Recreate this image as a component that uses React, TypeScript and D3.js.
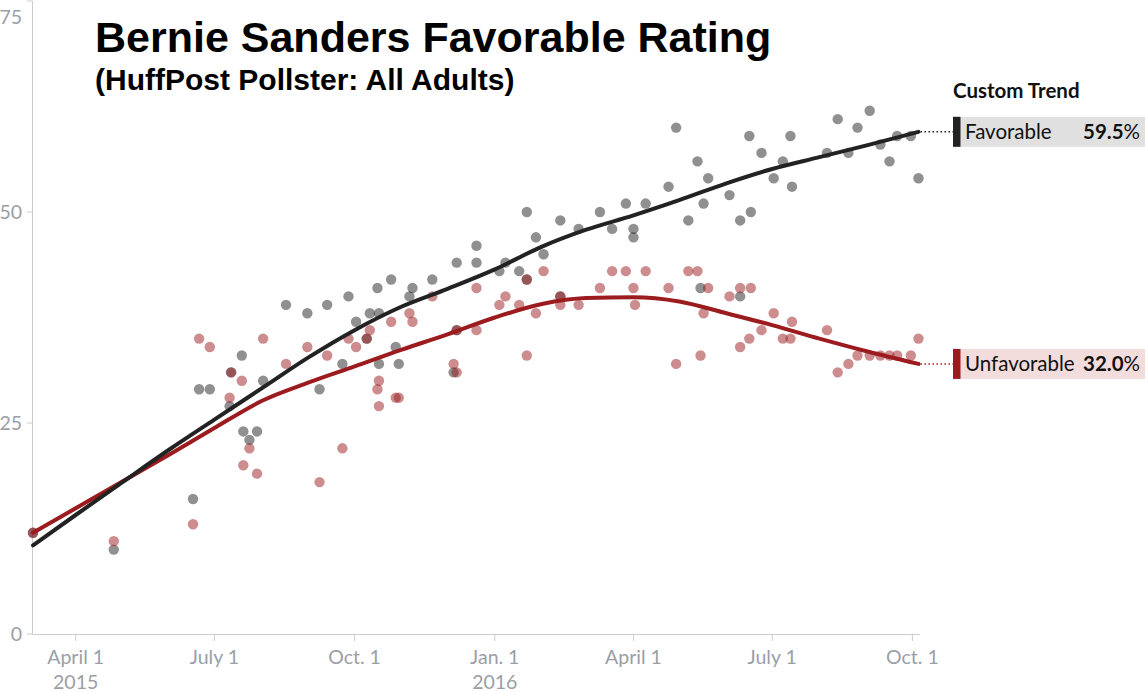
import React from "react";
import * as d3 from "d3";

const favorablePolls: [string, number][] = [
  ["2015-03-04", 12], ["2015-04-26", 10], ["2015-06-17", 16], ["2015-06-21", 29], ["2015-06-28", 29],
  ["2015-07-11", 27], ["2015-07-12", 31], ["2015-07-19", 33], ["2015-07-20", 24], ["2015-07-24", 23],
  ["2015-07-29", 24], ["2015-08-02", 30], ["2015-08-17", 39], ["2015-08-31", 38], ["2015-09-08", 29],
  ["2015-09-13", 39], ["2015-09-23", 32], ["2015-09-27", 40], ["2015-10-02", 37], ["2015-10-09", 35],
  ["2015-10-11", 38], ["2015-10-16", 41], ["2015-10-17", 38], ["2015-10-17", 32], ["2015-10-25", 42],
  ["2015-10-28", 34], ["2015-10-30", 32], ["2015-11-06", 40], ["2015-11-08", 41], ["2015-11-21", 42],
  ["2015-12-05", 31], ["2015-12-07", 44], ["2015-12-07", 36], ["2015-12-20", 46], ["2015-12-20", 44],
  ["2016-01-04", 43], ["2016-01-08", 44], ["2016-01-17", 43], ["2016-01-22", 50], ["2016-01-22", 42],
  ["2016-01-28", 47], ["2016-02-02", 45], ["2016-02-13", 49], ["2016-02-13", 40], ["2016-02-25", 48],
  ["2016-03-10", 50], ["2016-03-18", 48], ["2016-03-27", 51], ["2016-04-01", 48], ["2016-04-01", 47],
  ["2016-04-09", 51], ["2016-04-24", 53], ["2016-04-29", 60], ["2016-05-07", 49], ["2016-05-13", 56],
  ["2016-05-15", 41], ["2016-05-17", 51], ["2016-05-20", 54], ["2016-06-03", 52], ["2016-06-10", 49],
  ["2016-06-10", 40], ["2016-06-16", 59], ["2016-06-17", 50], ["2016-06-24", 57], ["2016-07-02", 54],
  ["2016-07-08", 56], ["2016-07-13", 59], ["2016-07-14", 53], ["2016-08-06", 57], ["2016-08-13", 61],
  ["2016-08-20", 57], ["2016-08-26", 60], ["2016-09-03", 62], ["2016-09-10", 58], ["2016-09-16", 56],
  ["2016-09-21", 59], ["2016-09-30", 59], ["2016-10-05", 54],
];

const unfavorablePolls: [string, number][] = [
  ["2015-03-04", 12], ["2015-04-26", 11], ["2015-06-17", 13], ["2015-06-21", 35], ["2015-06-28", 34],
  ["2015-07-11", 28], ["2015-07-12", 31], ["2015-07-19", 30], ["2015-07-20", 20], ["2015-07-24", 22],
  ["2015-07-29", 19], ["2015-08-02", 35], ["2015-08-17", 32], ["2015-08-31", 34], ["2015-09-08", 18],
  ["2015-09-13", 33], ["2015-09-23", 22], ["2015-09-27", 35], ["2015-10-02", 34], ["2015-10-09", 35],
  ["2015-10-11", 36], ["2015-10-16", 29], ["2015-10-17", 27], ["2015-10-17", 30], ["2015-10-25", 37],
  ["2015-10-28", 28], ["2015-10-30", 28], ["2015-11-06", 38], ["2015-11-08", 37], ["2015-11-21", 40],
  ["2015-12-05", 32], ["2015-12-07", 31], ["2015-12-07", 36], ["2015-12-20", 41], ["2015-12-20", 36],
  ["2016-01-04", 39], ["2016-01-08", 40], ["2016-01-17", 39], ["2016-01-22", 42], ["2016-01-22", 33],
  ["2016-01-28", 38], ["2016-02-02", 43], ["2016-02-13", 40], ["2016-02-13", 39], ["2016-02-25", 39],
  ["2016-03-10", 41], ["2016-03-18", 43], ["2016-03-27", 43], ["2016-04-01", 41], ["2016-04-02", 39],
  ["2016-04-09", 43], ["2016-04-24", 41], ["2016-04-29", 32], ["2016-05-07", 43], ["2016-05-13", 43],
  ["2016-05-15", 33], ["2016-05-17", 38], ["2016-05-20", 41], ["2016-06-03", 40], ["2016-06-10", 41],
  ["2016-06-10", 34], ["2016-06-16", 35], ["2016-06-17", 41], ["2016-06-24", 36], ["2016-07-02", 38],
  ["2016-07-08", 35], ["2016-07-13", 35], ["2016-07-14", 37], ["2016-08-06", 36], ["2016-08-13", 31],
  ["2016-08-20", 32], ["2016-08-26", 33], ["2016-09-03", 33], ["2016-09-10", 33], ["2016-09-16", 33],
  ["2016-09-21", 33], ["2016-09-30", 33], ["2016-10-05", 35],
];

const favorableTrend: [string, number][] = [
  ["2015-03-04", 10.5], ["2015-04-01", 14.1], ["2015-05-01", 17.9], ["2015-06-01", 21.8],
  ["2015-07-01", 25.4], ["2015-08-01", 29.1], ["2015-09-01", 32.8], ["2015-10-01", 36.0],
  ["2015-11-01", 38.8], ["2015-12-01", 40.9], ["2016-01-01", 43.2], ["2016-02-01", 45.9],
  ["2016-03-01", 47.9], ["2016-04-01", 49.6], ["2016-05-01", 51.4], ["2016-06-01", 53.4],
  ["2016-07-01", 55.1], ["2016-08-01", 56.5], ["2016-09-01", 57.9], ["2016-10-05", 59.5],
];

const unfavorableTrend: [string, number][] = [
  ["2015-03-04", 12.0], ["2015-04-01", 14.9], ["2015-05-01", 18.0], ["2015-06-01", 21.2],
  ["2015-07-01", 24.4], ["2015-08-01", 27.6], ["2015-09-01", 29.8], ["2015-10-01", 31.7],
  ["2015-11-01", 33.7], ["2015-12-01", 35.5], ["2016-01-01", 37.5], ["2016-02-01", 39.1],
  ["2016-03-01", 39.8], ["2016-04-01", 39.9], ["2016-05-01", 39.4], ["2016-06-01", 38.0],
  ["2016-07-01", 36.6], ["2016-08-01", 35.0], ["2016-09-01", 33.5], ["2016-10-05", 32.0],
];

const xTicks: [string, string, string][] = [
  ["2015-04-01", "April 1", "2015"], ["2015-07-01", "July 1", ""], ["2015-10-01", "Oct. 1", ""],
  ["2016-01-01", "Jan. 1", "2016"], ["2016-04-01", "April 1", ""], ["2016-07-01", "July 1", ""],
  ["2016-10-01", "Oct. 1", ""],
];
const yTicks = [0, 25, 50, 75];

const TITLE = "Bernie Sanders Favorable Rating";
const SUBTITLE = "(HuffPost Pollster: All Adults)";
const LEGEND_TITLE = "Custom Trend";
const FAV_LABEL = "Favorable";
const UNFAV_LABEL = "Unfavorable";
const FAV_VALUE = 59.5;
const UNFAV_VALUE = 32.0;

const parse = d3.utcParse("%Y-%m-%d");
const DARK = "#222222";
const RED = "#9b1b1f";
const AXIS = "#cccccc";
const TICK_TEXT = "#9a9ea6";
const LABEL_FONT = "Lato, 'Open Sans', sans-serif";

export default function App() {
  const W = 1148, H = 692;
  const x = d3.scaleUtc()
    .domain([parse("2015-03-04")!, parse("2016-10-06")!])
    .range([33, 920]);
  const y = d3.scaleLinear().domain([0, 75]).range([634, 1]);

  const line = d3.line<[string, number]>()
    .x((d) => x(parse(d[0])!))
    .y((d) => y(d[1]))
    .curve(d3.curveMonotoneX);

  const favEnd = favorableTrend[favorableTrend.length - 1];
  const unfavEnd = unfavorableTrend[unfavorableTrend.length - 1];
  const legendX = 953;
  const boxW = 192, boxH = 30;

  return (
    <svg width={W} height={H} style={{ position: "absolute", left: 0, top: 0, background: "#fff" }}>
      {/* axes */}
      <line x1={32.5} x2={32.5} y1={y(75)} y2={y(0)} stroke={AXIS} strokeWidth={1} />
      <line x1={32.5} x2={x.range()[1]} y1={y(0) + 0.5} y2={y(0) + 0.5} stroke={AXIS} strokeWidth={1} />
      {yTicks.map((t) => (
        <g key={t}>
          <line x1={27} x2={32.5} y1={y(t)} y2={y(t)} stroke={AXIS} />
          <text x={22} y={Math.max(y(t), 17)} dy="0.35em" textAnchor="end"
            fontFamily={LABEL_FONT} fontSize={19.5} fill={TICK_TEXT}>{t}</text>
        </g>
      ))}
      {xTicks.map(([d, l1, l2]) => {
        const px = x(parse(d)!);
        return (
          <g key={d}>
            <line x1={px} x2={px} y1={y(0) + 0.5} y2={y(0) + 7} stroke={AXIS} />
            <text x={px} y={664} textAnchor="middle" fontFamily={LABEL_FONT} fontSize={19.5} fill={TICK_TEXT}>{l1}</text>
            {l2 && <text x={px} y={689} textAnchor="middle" fontFamily={LABEL_FONT} fontSize={19.5} fill={TICK_TEXT}>{l2}</text>}
          </g>
        );
      })}

      {/* points */}
      {favorablePolls.map((d, i) => (
        <circle key={"f" + i} cx={x(parse(d[0])!)} cy={y(d[1])} r={5.2} fill={DARK} fillOpacity={0.5} />
      ))}
      {unfavorablePolls.map((d, i) => (
        <circle key={"u" + i} cx={x(parse(d[0])!)} cy={y(d[1])} r={5.2} fill={RED} fillOpacity={0.5} />
      ))}

      {/* trend lines */}
      <path d={line(unfavorableTrend)!} fill="none" stroke={RED} strokeWidth={4} strokeLinecap="round" />
      <path d={line(favorableTrend)!} fill="none" stroke={DARK} strokeWidth={4} strokeLinecap="round" />

      {/* connectors */}
      <line x1={x(parse(favEnd[0])!) + 2} x2={legendX} y1={y(favEnd[1])} y2={y(favEnd[1])}
        stroke={DARK} strokeWidth={1.5} strokeDasharray="1.5,2.5" />
      <line x1={x(parse(unfavEnd[0])!) + 2} x2={legendX} y1={y(unfavEnd[1])} y2={y(unfavEnd[1])}
        stroke={RED} strokeWidth={1.5} strokeDasharray="1.5,2.5" />

      {/* title */}
      <text x={95} y={52} fontFamily="'Liberation Sans', Arial, sans-serif" fontWeight="bold" fontSize={43} fill="#000">{TITLE}</text>
      <text x={95} y={90} fontFamily="'Liberation Sans', Arial, sans-serif" fontWeight="bold" fontSize={30} fill="#000">{SUBTITLE}</text>

      {/* legend */}
      <text x={legendX} y={97.5} fontFamily={LABEL_FONT} fontWeight="bold" fontSize={20.5} fill="#111">{LEGEND_TITLE}</text>
      <g transform={`translate(${legendX},${y(favEnd[1]) - boxH / 2})`}>
        <rect width={boxW} height={boxH} fill="#e0e0e0" />
        <rect width={7.5} height={boxH} fill={DARK} />
        <text x={12} y={22.5} fontFamily={LABEL_FONT} fontSize={20.5} fill="#111">{FAV_LABEL}</text>
        <text x={boxW - 5} y={22.5} textAnchor="end" fontFamily={LABEL_FONT} fontSize={20.5} fill="#111">
          <tspan fontWeight="bold">{FAV_VALUE.toFixed(1)}</tspan><tspan>%</tspan>
        </text>
      </g>
      <g transform={`translate(${legendX},${y(unfavEnd[1]) - boxH / 2})`}>
        <rect width={boxW} height={boxH} fill="#f2dcdc" />
        <rect width={7.5} height={boxH} fill={RED} />
        <text x={12} y={22.5} fontFamily={LABEL_FONT} fontSize={20.5} fill="#111">{UNFAV_LABEL}</text>
        <text x={boxW - 5} y={22.5} textAnchor="end" fontFamily={LABEL_FONT} fontSize={20.5} fill="#111">
          <tspan fontWeight="bold">{UNFAV_VALUE.toFixed(1)}</tspan><tspan>%</tspan>
        </text>
      </g>
    </svg>
  );
}
